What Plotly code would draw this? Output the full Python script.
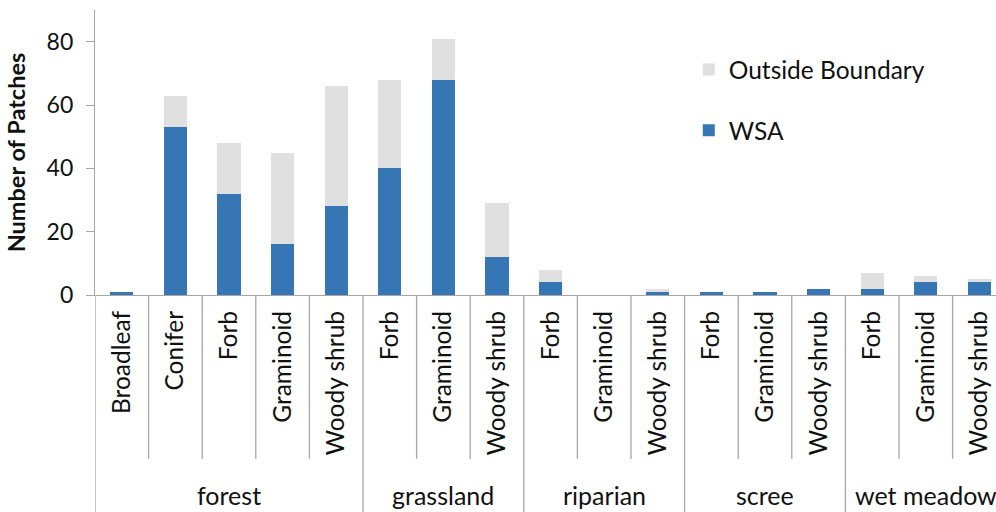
import plotly.graph_objects as go

groups = ["forest", "forest", "forest", "forest", "forest",
          "grassland", "grassland", "grassland",
          "riparian", "riparian", "riparian",
          "scree", "scree", "scree",
          "wet meadow", "wet meadow", "wet meadow"]
subcats = ["Broadleaf", "Conifer", "Forb", "Graminoid", "Woody shrub",
           "Forb", "Graminoid", "Woody shrub",
           "Forb", "Graminoid", "Woody shrub",
           "Forb", "Graminoid", "Woody shrub",
           "Forb", "Graminoid", "Woody shrub"]
wsa = [1, 53, 32, 16, 28, 40, 68, 12, 4, 0, 1, 1, 1, 2, 2, 4, 4]
outside = [0, 10, 16, 29, 38, 28, 13, 17, 4, 0, 1, 0, 0, 0, 5, 2, 1]
y_ticks = [0, 20, 40, 60, 80]

FONT = "Lato, 'DejaVu Sans', sans-serif"
x = list(range(len(subcats)))

fig = go.Figure()
fig.add_trace(go.Bar(x=x, y=wsa, name="WSA", marker=dict(color="#3776b5", line=dict(width=0)),
                     width=0.43, legendgroup="b", legendrank=2))
fig.add_trace(go.Bar(x=x, y=outside, name="Outside Boundary",
                     marker=dict(color="#e0e0e0", line=dict(width=0)), width=0.43,
                     legendgroup="a", legendrank=1))

line_col = "#a6a6a6"
shapes = []
inner_bottom = -0.575
outer_bottom = -0.80
group_starts = [i for i in range(len(groups)) if i == 0 or groups[i] != groups[i - 1]]
for i in range(len(subcats) + 1):
    xb = i - 0.5
    bottom = outer_bottom if (i in group_starts or i == len(subcats)) else inner_bottom
    shapes.append(dict(type="line", xref="x", yref="paper", x0=xb, x1=xb, y0=0, y1=bottom,
                       line=dict(color=line_col, width=1.3)))

annotations = []
uniq = []
for g in groups:
    if g not in uniq:
        uniq.append(g)
for g in uniq:
    idx = [i for i, gg in enumerate(groups) if gg == g]
    annotations.append(dict(x=(idx[0] + idx[-1]) / 2, xref="x", y=-0.70, yref="paper",
                            text=g, showarrow=False, font=dict(size=25, color="#111", family=FONT),
                            xanchor="center", yanchor="middle"))

fig.update_layout(
    width=996, height=512,
    margin=dict(l=95, r=0, t=10, b=217),
    plot_bgcolor="white", paper_bgcolor="white",
    barmode="stack",
    font=dict(family=FONT, color="#111"),
    showlegend=True,
    legend=dict(x=0.659, y=0.87, xanchor="left", yanchor="top", font=dict(size=24.5, family=FONT),
                bgcolor="rgba(0,0,0,0)", traceorder="grouped", tracegroupgap=26, itemwidth=30),
    xaxis=dict(range=[-0.5, -0.5 + 901 / 53.6], tickmode="array", tickvals=x, ticktext=subcats,
               tickangle=-90, showgrid=False, showline=True, linecolor=line_col, linewidth=1.3,
               ticks="", ticklabelstandoff=5,
               tickfont=dict(size=24.5, family=FONT, color="#111"), zeroline=False),
    yaxis=dict(range=[0, 90], tickmode="array", tickvals=y_ticks, showgrid=False, showline=True,
               linecolor=line_col, linewidth=1.3, ticks="outside", ticklen=8, tickcolor=line_col,
               ticklabelstandoff=8,
               tickfont=dict(size=23, family=FONT, color="#111"), zeroline=False,
               title=dict(text="<b>Number of Patches</b>", font=dict(size=23.5, family=FONT, color="#111"),
                          standoff=14)),
    shapes=shapes,
    annotations=annotations,
)

fig.write_html("out.html", config={"displayModeBar": False},
               post_script="document.body.style.margin='0';document.body.style.overflow='hidden';")
